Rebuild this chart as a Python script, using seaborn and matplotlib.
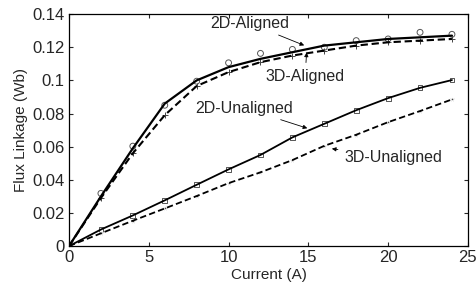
import numpy as np
import pandas as pd
import matplotlib
matplotlib.use("Agg")
import matplotlib.pyplot as plt
import seaborn as sns

# dados
corrente = [0, 2, 4, 6, 8, 10, 12, 14, 16, 18, 20, 22, 24]
alinhado_2d = [0, 0.030, 0.059, 0.086, 0.100, 0.108, 0.113, 0.117, 0.121, 0.123, 0.125, 0.126, 0.127]
alinhado_2d_pontos = [0, 0.0318, 0.0603, 0.085, 0.0995, 0.1106, 0.1163, 0.1187, 0.120, 0.124, 0.125, 0.129, 0.1278]
alinhado_3d = [0, 0.029, 0.056, 0.079, 0.0966, 0.105, 0.111, 0.115, 0.118, 0.121, 0.123, 0.124, 0.125]
desalinhado_2d = [0, 0.010, 0.0185, 0.0276, 0.037, 0.0463, 0.055, 0.0656, 0.0738, 0.082, 0.0893, 0.0955, 0.1002]
desalinhado_3d = [0, 0.0077, 0.0153, 0.0227, 0.0302, 0.038, 0.0445, 0.0519, 0.0605, 0.0672, 0.0748, 0.0815, 0.0885]

df = pd.DataFrame({
    'Corrente': corrente,
    'A2D': alinhado_2d,
    'A2D_pts': alinhado_2d_pontos,
    'A3D': alinhado_3d,
    'U2D': desalinhado_2d,
    'U3D': desalinhado_3d,
})

sns.set_style('white')
plt.rcParams['font.family'] = ['Liberation Sans', 'DejaVu Sans']

fig = plt.figure(figsize=(4.76, 2.94), dpi=100)
ax = fig.add_axes([0.145, 0.163, 0.838, 0.789])

# linhas
sns.lineplot(data=df, x='Corrente', y='A2D', color='black', lw=1.6, ax=ax)
sns.lineplot(data=df, x='Corrente', y='A3D', color='black', lw=1.5, ax=ax).lines[-1].set_dashes((3.5, 1.8))
sns.lineplot(data=df, x='Corrente', y='U2D', color='black', lw=1.3, ax=ax)
sns.lineplot(data=df, x='Corrente', y='U3D', color='black', lw=1.3, ax=ax).lines[-1].set_dashes((3.5, 1.8))

# marcadores
sns.scatterplot(data=df, x='Corrente', y='A2D_pts', marker='o', s=18, facecolor='none',
                edgecolor='#555555', linewidth=0.7, ax=ax)
sns.scatterplot(data=df, x='Corrente', y='A3D', marker='+', s=20, color='#444444', linewidth=0.7, ax=ax)
sns.scatterplot(data=df, x='Corrente', y='U2D', marker='s', s=12, facecolor='none',
                edgecolor='#555555', linewidth=0.7, ax=ax)
sns.scatterplot(data=df, x='Corrente', y='U3D', marker='*', s=14, color='#444444', linewidth=0.5, ax=ax)

# anotações
seta = dict(arrowstyle='-|>', color='black', lw=0.6, mutation_scale=6)
ax.annotate('2D-Aligned', xy=(14.9, 0.1205), xytext=(11.3, 0.1345), ha='center', va='center',
            fontsize=11.5, arrowprops=seta)
ax.annotate('3D-Aligned', xy=(14.9, 0.1185), xytext=(14.8, 0.1026), ha='center', va='center',
            fontsize=11.5, arrowprops=seta)
ax.annotate('2D-Unaligned', xy=(15.1, 0.0706), xytext=(11.0, 0.0833), ha='center', va='center',
            fontsize=11.5, arrowprops=seta)
ax.annotate('3D-Unaligned', xy=(16.3, 0.059), xytext=(20.3, 0.0535), ha='center', va='center',
            fontsize=11.5, arrowprops=seta)

ax.set_xlim(0, 25)
ax.set_ylim(0, 0.14)
ax.set_xticks([0, 5, 10, 15, 20, 25])
ax.set_yticks([0, 0.02, 0.04, 0.06, 0.08, 0.1, 0.12, 0.14])
ax.set_yticklabels(['0', '0.02', '0.04', '0.06', '0.08', '0.1', '0.12', '0.14'])
ax.tick_params(direction='in', length=3, width=0.8, labelsize=12, top=True, right=True,
               bottom=True, left=True, pad=3)
for s in ax.spines.values():
    s.set_color('black')
    s.set_linewidth(0.9)
ax.set_xlabel('Current (A)', fontsize=11, labelpad=2)
ax.set_ylabel('Flux Linkage (Wb)', fontsize=11, labelpad=3)

fig.savefig('out.png', dpi=100)
